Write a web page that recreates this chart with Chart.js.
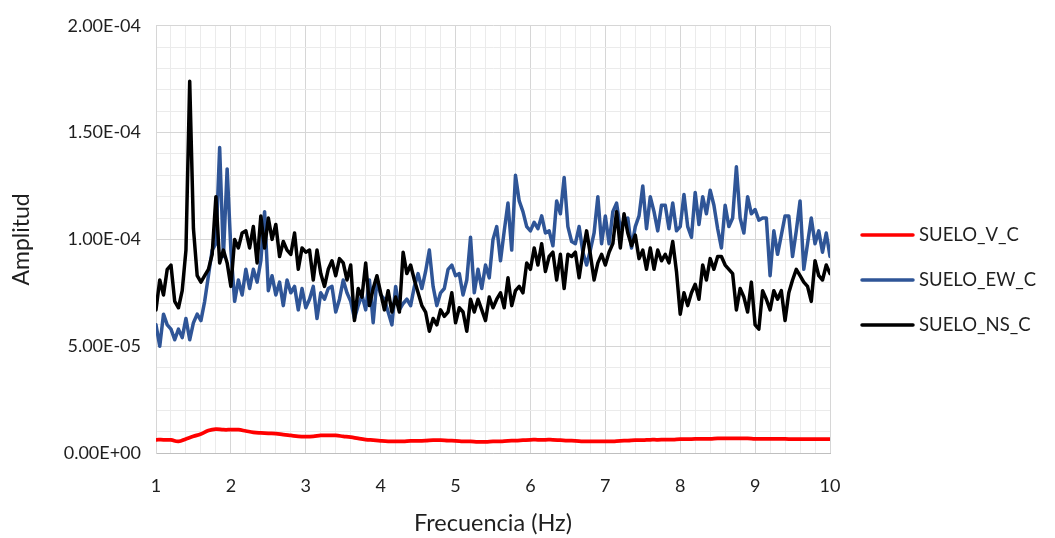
<!DOCTYPE html>
<html>
<head>
<meta charset="utf-8">
<script src="https://cdn.jsdelivr.net/npm/chart.js@4.4.1/dist/chart.umd.min.js"></script>
<style>
  html, body { margin: 0; padding: 0; background: #fff; }
  #wrap { width: 1055px; height: 538px; }
</style>
</head>
<body>
<div id="wrap"><canvas id="chart" width="1055" height="538"></canvas></div>
<script>
// Spectral amplitude of soil records, 1–10 Hz

// amplitudes are stored in units of 1e-5
const AMP_UNIT = 1e-5;

// horizontal components sampled every 0.05 Hz
const freq = [
  1, 1.05, 1.1, 1.15, 1.2, 1.25, 1.3, 1.35, 1.4, 1.45, 1.5, 1.55, 1.6, 1.65, 1.7, 1.75, 1.8, 1.85, 1.9, 1.95,
  2, 2.05, 2.1, 2.15, 2.2, 2.25, 2.3, 2.35, 2.4, 2.45, 2.5, 2.55, 2.6, 2.65, 2.7, 2.75, 2.8, 2.85, 2.9, 2.95,
  3, 3.05, 3.1, 3.15, 3.2, 3.25, 3.3, 3.35, 3.4, 3.45, 3.5, 3.55, 3.6, 3.65, 3.7, 3.75, 3.8, 3.85, 3.9, 3.95,
  4, 4.05, 4.1, 4.15, 4.2, 4.25, 4.3, 4.35, 4.4, 4.45, 4.5, 4.55, 4.6, 4.65, 4.7, 4.75, 4.8, 4.85, 4.9, 4.95,
  5, 5.05, 5.1, 5.15, 5.2, 5.25, 5.3, 5.35, 5.4, 5.45, 5.5, 5.55, 5.6, 5.65, 5.7, 5.75, 5.8, 5.85, 5.9, 5.95,
  6, 6.05, 6.1, 6.15, 6.2, 6.25, 6.3, 6.35, 6.4, 6.45, 6.5, 6.55, 6.6, 6.65, 6.7, 6.75, 6.8, 6.85, 6.9, 6.95,
  7, 7.05, 7.1, 7.15, 7.2, 7.25, 7.3, 7.35, 7.4, 7.45, 7.5, 7.55, 7.6, 7.65, 7.7, 7.75, 7.8, 7.85, 7.9, 7.95,
  8, 8.05, 8.1, 8.15, 8.2, 8.25, 8.3, 8.35, 8.4, 8.45, 8.5, 8.55, 8.6, 8.65, 8.7, 8.75, 8.8, 8.85, 8.9, 8.95,
  9, 9.05, 9.1, 9.15, 9.2, 9.25, 9.3, 9.35, 9.4, 9.45, 9.5, 9.55, 9.6, 9.65, 9.7, 9.75, 9.8, 9.85, 9.9, 9.95,
  10
];

const sueloEW = [
  6.0, 5.0, 6.5, 6.0, 5.8, 5.3, 5.8, 5.4, 6.3, 5.3, 6.1, 6.5, 6.2, 7.1, 8.3, 9.5, 9.8, 14.3, 9.2, 13.3,
  9.5, 7.1, 8.1, 7.4, 8.6, 7.7, 8.6, 8.0, 9.0, 11.3, 7.6, 8.3, 7.4, 8.0, 6.9, 8.1, 7.5, 7.8, 6.7, 7.7,
  6.8, 7.2, 7.8, 6.3, 7.5, 7.2, 7.7, 7.8, 6.6, 7.2, 8.1, 7.5, 7.1, 6.3, 6.9, 7.4, 6.7, 8.1, 6.1, 8.1,
  7.4, 7.2, 6.6, 6.0, 7.8, 6.7, 7.0, 7.2, 6.9, 7.8, 8.4, 7.7, 8.5, 9.5, 7.8, 6.9, 7.5, 7.7, 8.6, 8.8,
  8.3, 8.4, 7.4, 8.1, 10.1, 7.5, 8.6, 7.7, 8.8, 8.2, 10.0, 10.6, 9.0, 10.4, 11.7, 9.5, 13.0, 11.8, 11.3, 10.6,
  10.4, 10.8, 10.5, 11.1, 10.3, 10.4, 9.7, 11.8, 11.2, 12.9, 10.6, 9.9, 9.8, 10.6, 9.4, 8.8, 9.5, 10.3, 12.0, 9.8,
  11.1, 9.8, 11.3, 11.7, 10.5, 10.9, 11.0, 9.6, 10.6, 11.1, 12.5, 10.5, 12.0, 11.3, 10.4, 11.6, 11.6, 10.5, 11.7, 10.4,
  10.6, 12.1, 10.6, 10.1, 12.2, 10.7, 12.0, 11.2, 12.3, 11.6, 10.5, 9.6, 11.6, 10.6, 11.0, 13.4, 11.0, 10.3, 12.0, 11.2,
  11.4, 10.9, 11.0, 11.0, 8.3, 10.4, 9.3, 10.2, 11.1, 11.1, 9.2, 10.4, 11.8, 8.6, 9.8, 11.0, 9.8, 10.4, 9.4, 10.3,
  9.2
];

const sueloNS = [
  6.7, 8.1, 7.4, 8.6, 8.8, 7.1, 6.8, 7.6, 9.5, 17.4, 10.5, 8.3, 8.0, 8.3, 8.6, 9.3, 12.0, 8.9, 9.5, 8.9,
  7.8, 10.0, 9.6, 10.3, 10.4, 9.6, 10.6, 8.9, 11.1, 9.6, 11.0, 10.0, 10.7, 9.2, 9.9, 9.5, 9.3, 10.3, 8.6, 9.6,
  9.4, 9.5, 8.1, 9.5, 8.4, 7.8, 8.6, 9.0, 8.3, 9.1, 8.9, 8.1, 8.8, 6.2, 7.7, 7.3, 8.9, 6.9, 7.7, 8.3,
  7.5, 6.7, 7.6, 6.6, 7.3, 6.6, 9.4, 8.4, 8.8, 8.1, 7.5, 6.9, 6.6, 5.7, 6.3, 6.0, 6.7, 6.4, 6.6, 7.5,
  6.1, 6.8, 6.6, 5.7, 7.2, 6.6, 7.2, 6.7, 6.2, 7.3, 6.8, 7.2, 7.5, 6.8, 8.2, 6.9, 7.6, 7.8, 7.5, 8.9,
  8.6, 9.6, 8.8, 9.8, 8.5, 9.2, 9.4, 8.1, 9.3, 7.7, 9.3, 9.2, 9.4, 8.2, 9.4, 10.4, 9.3, 8.1, 8.9, 9.3,
  8.8, 9.4, 9.8, 11.3, 9.6, 11.2, 10.3, 9.7, 10.2, 9.1, 9.5, 8.6, 9.6, 8.6, 9.5, 9.0, 9.3, 8.9, 9.9, 8.5,
  6.5, 7.5, 6.9, 7.5, 7.9, 7.2, 8.8, 8.1, 9.1, 8.6, 9.2, 9.2, 8.8, 8.6, 8.4, 6.7, 7.7, 7.3, 6.6, 8.0,
  6.0, 5.8, 7.6, 7.2, 6.7, 7.6, 7.2, 7.6, 6.2, 7.5, 8.1, 8.6, 8.3, 8.0, 7.8, 7.1, 9.0, 8.3, 8.1, 8.8,
  8.4
];

// vertical component, smoother, sampled every 0.1 Hz
const freqV = [
  1, 1.1, 1.2, 1.3, 1.4, 1.5, 1.6, 1.7, 1.8, 1.9,
  2, 2.1, 2.2, 2.3, 2.4, 2.5, 2.6, 2.7, 2.8, 2.9,
  3, 3.1, 3.2, 3.3, 3.4, 3.5, 3.6, 3.7, 3.8, 3.9,
  4, 4.1, 4.2, 4.3, 4.4, 4.5, 4.6, 4.7, 4.8, 4.9,
  5, 5.1, 5.2, 5.3, 5.4, 5.5, 5.6, 5.7, 5.8, 5.9,
  6, 6.1, 6.2, 6.3, 6.4, 6.5, 6.6, 6.7, 6.8, 6.9,
  7, 7.1, 7.2, 7.3, 7.4, 7.5, 7.6, 7.7, 7.8, 7.9,
  8, 8.1, 8.2, 8.3, 8.4, 8.5, 8.6, 8.7, 8.8, 8.9,
  9, 9.1, 9.2, 9.3, 9.4, 9.5, 9.6, 9.7, 9.8, 9.9,
  10
];

const sueloV = [
  0.62, 0.62, 0.61, 0.54, 0.66, 0.78, 0.89, 1.05, 1.12, 1.09,
  1.09, 1.09, 1.03, 0.97, 0.94, 0.92, 0.91, 0.86, 0.82, 0.78,
  0.77, 0.78, 0.82, 0.83, 0.82, 0.78, 0.74, 0.68, 0.63, 0.60,
  0.57, 0.55, 0.55, 0.55, 0.57, 0.57, 0.58, 0.60, 0.60, 0.58,
  0.57, 0.55, 0.54, 0.52, 0.52, 0.54, 0.55, 0.57, 0.58, 0.60,
  0.62, 0.62, 0.62, 0.62, 0.60, 0.58, 0.57, 0.55, 0.54, 0.54,
  0.54, 0.55, 0.57, 0.58, 0.60, 0.60, 0.62, 0.62, 0.63, 0.63,
  0.65, 0.65, 0.66, 0.66, 0.66, 0.68, 0.68, 0.68, 0.68, 0.68,
  0.66, 0.66, 0.66, 0.66, 0.66, 0.65, 0.65, 0.65, 0.65, 0.65,
  0.65
];

const FONT = 'Lato, "Open Sans", sans-serif';
const TEXT = '#1f1f1f';

const toPoints = (xs, ys) => xs.map((x, i) => ({ x, y: ys[i] * AMP_UNIT }));

// 2.00E-04 style labels
function sciLabel(v) {
  const [m, e] = v.toExponential(2).split('e');
  const n = parseInt(e, 10);
  return m + 'E' + (n < 0 ? '-' : '+') + String(Math.abs(n)).padStart(2, '0');
}

const isMajorX = v => Math.abs(v - Math.round(v)) < 1e-6;
const isMajorY = v => Math.round(v / AMP_UNIT) % 5 === 0;

// legend as a column to the right of the plot
const sideLegend = {
  id: 'sideLegend',
  afterDraw(chart) {
    const { ctx } = chart;
    ctx.save();
    ctx.font = '18.5px ' + FONT;
    ctx.textBaseline = 'middle';
    ctx.lineCap = 'round';
    chart.data.datasets.forEach((ds, i) => {
      const y = 235 + i * 45;
      ctx.strokeStyle = ds.borderColor;
      ctx.lineWidth = 3.5;
      ctx.beginPath();
      ctx.moveTo(862, y);
      ctx.lineTo(913, y);
      ctx.stroke();
      ctx.fillStyle = TEXT;
      ctx.fillText(ds.label, 919, y);
    });
    ctx.restore();
  }
};

const lineStyle = { pointRadius: 0, borderJoinStyle: 'round', borderCapStyle: 'round' };

new Chart(document.getElementById('chart'), {
  type: 'line',
  data: {
    datasets: [
      {
        ...lineStyle,
        label: 'SUELO_V_C',
        data: toPoints(freqV, sueloV),
        borderColor: '#ff0000',
        borderWidth: 3.75,
        tension: 0.4,
        order: 2
      },
      {
        ...lineStyle,
        label: 'SUELO_EW_C',
        data: toPoints(freq, sueloEW),
        borderColor: '#2f5597',
        borderWidth: 3.5,
        order: 1
      },
      {
        ...lineStyle,
        label: 'SUELO_NS_C',
        data: toPoints(freq, sueloNS),
        borderColor: '#000000',
        borderWidth: 3.5,
        order: 0
      }
    ]
  },
  options: {
    responsive: false,
    animation: false,
    layout: { padding: { top: 19, right: 225, bottom: 0, left: 0 } },
    plugins: {
      legend: { display: false },
      tooltip: { enabled: false }
    },
    scales: {
      x: {
        type: 'linear',
        min: 1,
        max: 10,
        afterFit: s => { s.height = 85; },
        ticks: {
          stepSize: 0.2,
          autoSkip: false,
          maxRotation: 0,
          padding: 22,
          color: TEXT,
          font: { family: FONT, size: 18 },
          callback: v => isMajorX(v) ? String(Math.round(v)) : ''
        },
        grid: {
          drawTicks: false,
          color: c => isMajorX(c.tick.value) ? '#d6d6d6' : '#ebebeb'
        },
        border: { color: '#bfbfbf' },
        title: {
          display: true,
          text: 'Frecuencia (Hz)',
          color: TEXT,
          font: { family: FONT, size: 23.5 },
          padding: { top: 4, bottom: 0 }
        }
      },
      y: {
        min: 0,
        max: 2e-4,
        afterFit: s => { s.width = 156; },
        ticks: {
          stepSize: 1e-5,
          autoSkip: false,
          padding: 15,
          color: TEXT,
          font: { family: FONT, size: 18 },
          callback: v => isMajorY(v) ? sciLabel(v) : ''
        },
        grid: {
          drawTicks: false,
          color: c => isMajorY(c.tick.value) ? '#d6d6d6' : '#ebebeb'
        },
        border: { color: '#d6d6d6' },
        title: {
          display: true,
          text: 'Amplitud',
          color: TEXT,
          font: { family: FONT, size: 23 },
          padding: { top: 8, bottom: 0 }
        }
      }
    }
  },
  plugins: [sideLegend]
});
</script>
</body>
</html>
